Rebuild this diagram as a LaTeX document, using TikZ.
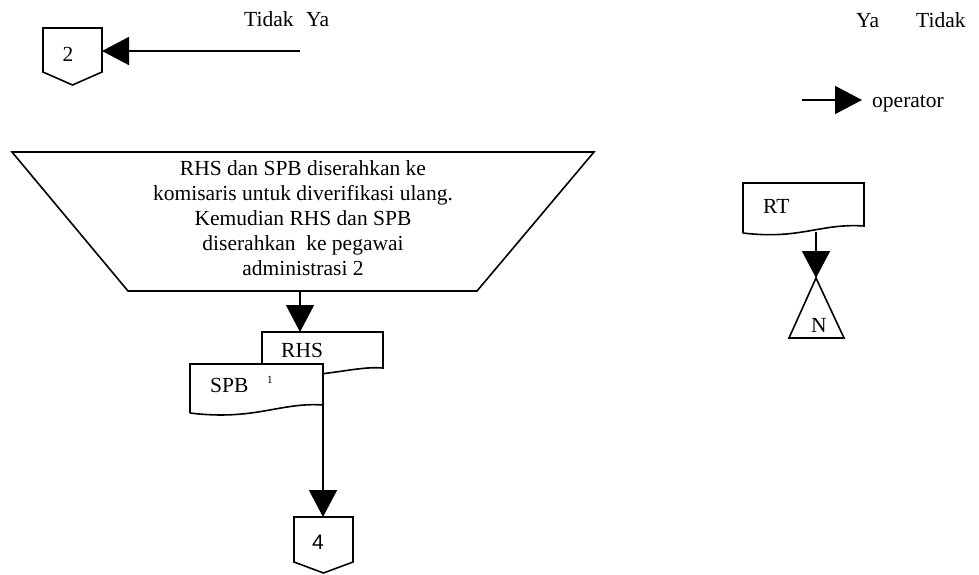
\documentclass[tikz,border=0pt]{standalone}
\usepackage{fontspec}
\setmainfont{Liberation Serif}
\newfontfamily\labelsans{Liberation Sans}
\usetikzlibrary{arrows.meta}
\begin{document}
\begin{tikzpicture}[x=1pt,y=-1pt,
  outline/.style={draw=black, line width=1.6pt, line join=miter, fill=white},
  flow/.style={draw=black, line width=1.7pt, -{Triangle[length=27pt,width=28pt]}},
  txt/.style={inner sep=0pt, font=\fontsize{21.5}{25}\selectfont},
  tiny/.style={inner sep=0pt, font=\fontsize{11}{12}\selectfont},
]
\useasboundingbox (0,0) rectangle (979,575);

% off-page connector 2
\draw[outline] (43,28) -- (102,28) -- (102,72) -- (72.5,85) -- (43,72) -- cycle;
\coordinate (c2) at (102,51);
\node[txt] (c2label) at (68,54) {2};

% branch labels, left decision
\node[txt, anchor=base west] (tidakL) at (244,27) {Tidak};
\node[txt, anchor=base west] (yaL) at (306,27) {Ya};
\coordinate (tidakEnd) at (300,51);
\draw[flow] (tidakEnd) -- (c2);

% branch labels, right decision
\node[txt, anchor=base west] (yaR) at (856,28) {Ya};
\node[txt, anchor=base west] (tidakR) at (916,28) {Tidak};

% flow to operator
\coordinate (opStart) at (802,100);
\node[txt, anchor=base west] (op) at (872,108) {operator};
\coordinate (opTip) at (862,100);
\draw[flow] (opStart) -- (opTip);

% manual operation
\draw[outline] (12,152) -- (594,152) -- (477,291) -- (128,291) -- cycle;
\node[txt, align=center] (manual) at (303,218)
  {RHS dan SPB diserahkan ke\\
   komisaris untuk diverifikasi ulang.\\
   Kemudian RHS dan SPB\\
   diserahkan\ \ ke pegawai\\
   administrasi 2};
\coordinate (manualOut) at (300,291);

% documents RHS and SPB
\draw[outline] (262,378) -- (262,332) -- (383,332) -- (383,368)
  .. controls (355,366) and (335,376) .. (262,378);
\coordinate (rhsTop) at (300,332);
\node[txt, anchor=base west] (rhs) at (281,357) {RHS};
\draw[flow] (manualOut) -- (rhsTop);

\draw[outline] (190,413) -- (190,364) -- (323,364) -- (323,405)
  .. controls (280,402) and (255,421) .. (190,413);
\node[txt, anchor=base west] (spb) at (210,392) {SPB};
\node[tiny, anchor=base west] (spbno) at (267,383) {1};
\coordinate (spbOut) at (323,405);

% off-page connector 4
\draw[outline] (294,517) -- (353,517) -- (353,562) -- (323.5,573) -- (294,562) -- cycle;
\coordinate (c4) at (323,517);
\node[txt, font=\labelsans\fontsize{21}{25}\selectfont] (c4label) at (318,542) {4};
\draw[flow] (spbOut) -- (c4);

% document RT to file N
\draw[outline] (743,233) -- (743,183) -- (864,183) -- (864,226)
  .. controls (820,223) and (800,240) .. (743,233);
\node[txt, anchor=base west] (rt) at (763,213) {RT};
\coordinate (rtOut) at (816,232);

\draw[outline] (816,278) -- (844,338) -- (789,338) -- cycle;
\coordinate (fileTop) at (816,278);
\node[txt] (nlabel) at (819,325) {N};
\draw[flow] (rtOut) -- (fileTop);
\end{tikzpicture}
\end{document}
